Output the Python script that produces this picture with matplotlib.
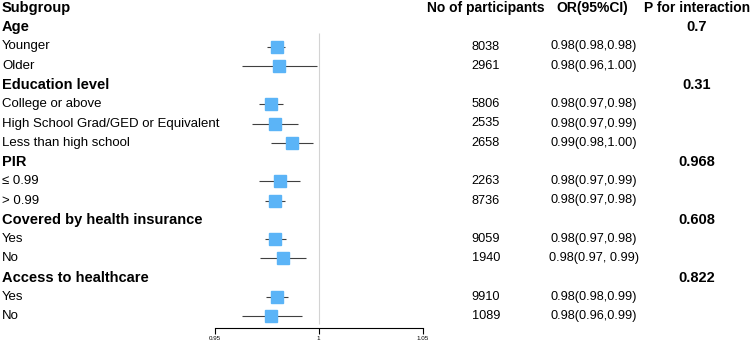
import matplotlib.pyplot as plt
from matplotlib.transforms import blended_transform_factory

plt.rcParams['font.family'] = ['Liberation Sans', 'DejaVu Sans']

# rows top to bottom: group headers and subgroups
labels = ['Age', 'Younger', 'Older',
          'Education level', 'College or above', 'High School Grad/GED or Equivalent', 'Less than high school',
          'PIR', '≤ 0.99', '> 0.99',
          'Covered by health insurance', 'Yes', 'No',
          'Access to healthcare', 'Yes', 'No']
is_header = [True, False, False,
             True, False, False, False,
             True, False, False,
             True, False, False,
             True, False, False]
n_part = ['', '8038', '2961',
          '', '5806', '2535', '2658',
          '', '2263', '8736',
          '', '9059', '1940',
          '', '9910', '1089']
or_text = ['', '0.98(0.98,0.98)', '0.98(0.96,1.00)',
           '', '0.98(0.97,0.98)', '0.98(0.97,0.99)', '0.99(0.98,1.00)',
           '', '0.98(0.97,0.99)', '0.98(0.97,0.98)',
           '', '0.98(0.97,0.98)', '0.98(0.97, 0.99)',
           '', '0.98(0.98,0.99)', '0.98(0.96,0.99)']
p_int = ['0.7', '', '', '0.31', '', '', '', '0.968', '', '', '0.608', '', '', '0.822', '', '']

# estimates as drawn (NaN for header rows)
nan = float('nan')
est = [nan, 0.9800, 0.9808, nan, 0.9770, 0.9791, 0.9871, nan, 0.9812, 0.9788, nan, 0.9788, 0.9829, nan, 0.9800, 0.9770]
lo = [nan, 0.9751, 0.9629, nan, 0.9711, 0.9679, 0.9770, nan, 0.9711, 0.9740, nan, 0.9740, 0.9720, nan, 0.9748, 0.9629]
hi = [nan, 0.9839, 0.9991, nan, 0.9828, 0.9900, 0.9972, nan, 0.9911, 0.9839, nan, 0.9842, 0.9940, nan, 0.9850, 0.9918]
xticks = [0.95, 1, 1.05]

W, H = 752, 342
fig = plt.figure(figsize=(W / 100, H / 100), dpi=100)
x0, x1 = 214.7, 422.7
y_axis = 327.7
ax = fig.add_axes([x0 / W, (H - y_axis) / H, (x1 - x0) / W, y_axis / H])
ax.set_xlim(0.95, 1.05)
row0, step = 8, 19.25
ax.set_ylim((y_axis - row0) / step, -row0 / step)
for s in ['top', 'right', 'left']:
    ax.spines[s].set_visible(False)
ax.spines['bottom'].set_linewidth(0.8)
ax.set_yticks([])
ax.set_xticks(xticks)
ax.set_xticklabels(['0.95', '1', '1.05'], fontsize=4.5)
ax.tick_params(axis='x', length=4, width=0.8, pad=2)
ax.patch.set_alpha(0)

ax.vlines(1, 1.3, 16.4, color='#d3d3d3', lw=0.8)

for i, lab in enumerate(labels):
    r = i + 1
    if not is_header[i]:
        ax.hlines(r, lo[i], hi[i], color='#404040', lw=0.8)
        ax.plot(est[i], r, marker='s', ms=8, color='#5bb4f7', mec='#5bb4f7')

tr = blended_transform_factory(fig.transFigure, ax.transData)
fig.text(2 / W, 1 - row0 / H, 'Subgroup', fontsize=10.5, fontweight='bold', va='center', ha='left')
fig.text(485.5 / W, 1 - row0 / H, 'No of participants', fontsize=10, fontweight='bold', va='center', ha='center')
fig.text(592.5 / W, 1 - row0 / H, 'OR(95%CI)', fontsize=10, fontweight='bold', va='center', ha='center')
fig.text(697 / W, 1 - row0 / H, 'P for interaction', fontsize=10, fontweight='bold', va='center', ha='center')

for i, lab in enumerate(labels):
    r = i + 1
    if is_header[i]:
        ax.text(2 / W, r, lab, transform=tr, fontsize=10.5, fontweight='bold', va='center', ha='left', clip_on=False)
        ax.text(697 / W, r, p_int[i], transform=tr, fontsize=10.5, fontweight='bold', va='center', ha='center', clip_on=False)
    else:
        ax.text(2 / W, r, lab, transform=tr, fontsize=9.5, va='center', ha='left', clip_on=False)
        ax.text(486 / W, r, n_part[i], transform=tr, fontsize=9.2, va='center', ha='center', clip_on=False)
        ax.text(594 / W, r, or_text[i], transform=tr, fontsize=9.2, va='center', ha='center', clip_on=False)

fig.savefig('out.png', dpi=100)
